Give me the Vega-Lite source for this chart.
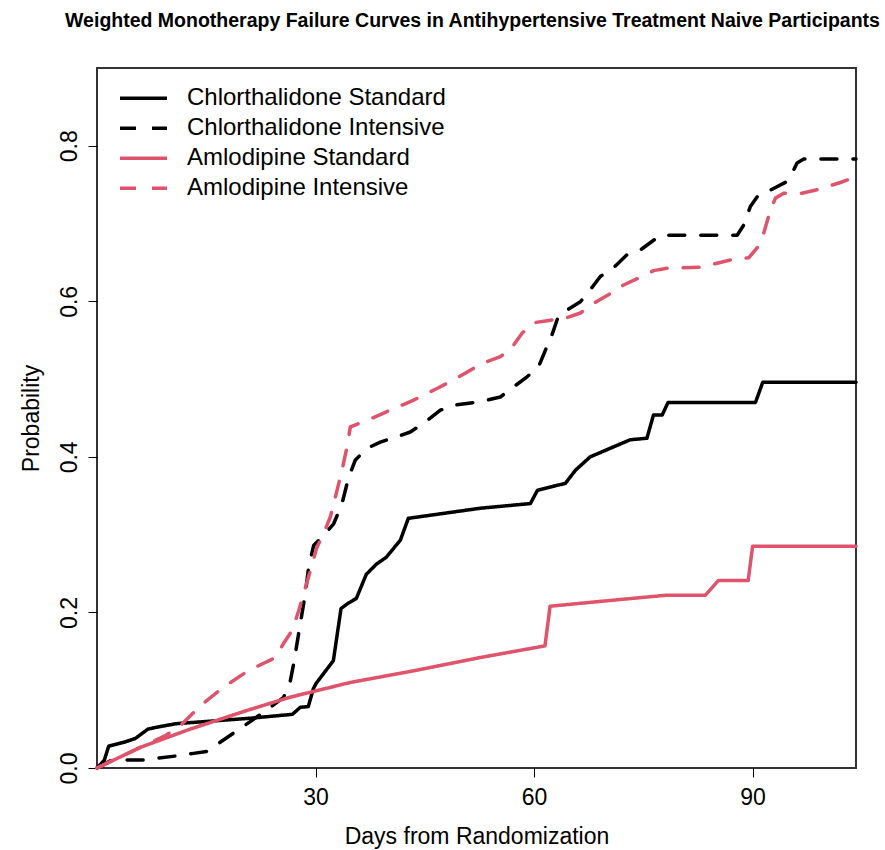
{
  "$schema": "https://vega.github.io/schema/vega-lite/v6.json",
  "width": 759,
  "height": 700,
  "autosize": {"type": "none"},
  "padding": {"left": 97, "top": 68, "right": 29, "bottom": 82},
  "background": "white",
  "title": {
    "text": "Weighted Monotherapy Failure Curves in Antihypertensive Treatment Naive Participants",
    "font": "Liberation Sans",
    "fontSize": 19.5,
    "fontWeight": "bold",
    "color": "black",
    "anchor": "middle",
    "baseline": "alphabetic",
    "offset": 41,
    "dy": 19,
    "dx": -4
  },
  "config": {
    "view": {"stroke": "#333333", "strokeWidth": 2},
    "axis": {"grid": false, "domain": false}
  },
  "data": {
    "values": [
      {"s": "Chlorthalidone Standard", "d": 0, "p": 0},
      {"s": "Chlorthalidone Standard", "d": 1.0, "p": 0.01},
      {"s": "Chlorthalidone Standard", "d": 1.6, "p": 0.028},
      {"s": "Chlorthalidone Standard", "d": 4.02, "p": 0.034},
      {"s": "Chlorthalidone Standard", "d": 5.26, "p": 0.038},
      {"s": "Chlorthalidone Standard", "d": 7.0, "p": 0.05},
      {"s": "Chlorthalidone Standard", "d": 8.5, "p": 0.053},
      {"s": "Chlorthalidone Standard", "d": 10.89, "p": 0.057},
      {"s": "Chlorthalidone Standard", "d": 21.05, "p": 0.064},
      {"s": "Chlorthalidone Standard", "d": 26.82, "p": 0.069},
      {"s": "Chlorthalidone Standard", "d": 27.91, "p": 0.078},
      {"s": "Chlorthalidone Standard", "d": 29.01, "p": 0.079},
      {"s": "Chlorthalidone Standard", "d": 29.7, "p": 0.102},
      {"s": "Chlorthalidone Standard", "d": 30.1, "p": 0.109},
      {"s": "Chlorthalidone Standard", "d": 32.45, "p": 0.138},
      {"s": "Chlorthalidone Standard", "d": 33.5, "p": 0.205},
      {"s": "Chlorthalidone Standard", "d": 34.5, "p": 0.212},
      {"s": "Chlorthalidone Standard", "d": 35.6, "p": 0.218},
      {"s": "Chlorthalidone Standard", "d": 36.97, "p": 0.249},
      {"s": "Chlorthalidone Standard", "d": 38.35, "p": 0.262},
      {"s": "Chlorthalidone Standard", "d": 39.72, "p": 0.271},
      {"s": "Chlorthalidone Standard", "d": 41.65, "p": 0.293},
      {"s": "Chlorthalidone Standard", "d": 42.74, "p": 0.321},
      {"s": "Chlorthalidone Standard", "d": 52.63, "p": 0.334},
      {"s": "Chlorthalidone Standard", "d": 59.5, "p": 0.34},
      {"s": "Chlorthalidone Standard", "d": 60.46, "p": 0.357},
      {"s": "Chlorthalidone Standard", "d": 64.3, "p": 0.366},
      {"s": "Chlorthalidone Standard", "d": 65.7, "p": 0.383},
      {"s": "Chlorthalidone Standard", "d": 67.7, "p": 0.4},
      {"s": "Chlorthalidone Standard", "d": 73.2, "p": 0.422},
      {"s": "Chlorthalidone Standard", "d": 75.5, "p": 0.424},
      {"s": "Chlorthalidone Standard", "d": 76.4, "p": 0.454},
      {"s": "Chlorthalidone Standard", "d": 77.6, "p": 0.454},
      {"s": "Chlorthalidone Standard", "d": 78.4, "p": 0.47},
      {"s": "Chlorthalidone Standard", "d": 90.4, "p": 0.47},
      {"s": "Chlorthalidone Standard", "d": 91.4, "p": 0.496},
      {"s": "Chlorthalidone Standard", "d": 104.2, "p": 0.496},

      {"s": "Chlorthalidone Intensive", "d": 0, "p": 0},
      {"s": "Chlorthalidone Intensive", "d": 1.83, "p": 0.0094},
      {"s": "Chlorthalidone Intensive", "d": 4.12, "p": 0.0103},
      {"s": "Chlorthalidone Intensive", "d": 6.4, "p": 0.0103},
      {"s": "Chlorthalidone Intensive", "d": 8.46, "p": 0.0129},
      {"s": "Chlorthalidone Intensive", "d": 11.2, "p": 0.0158},
      {"s": "Chlorthalidone Intensive", "d": 13.26, "p": 0.0188},
      {"s": "Chlorthalidone Intensive", "d": 15.1, "p": 0.0214},
      {"s": "Chlorthalidone Intensive", "d": 19.22, "p": 0.048},
      {"s": "Chlorthalidone Intensive", "d": 22.88, "p": 0.0716},
      {"s": "Chlorthalidone Intensive", "d": 25.62, "p": 0.0909},
      {"s": "Chlorthalidone Intensive", "d": 26.54, "p": 0.112},
      {"s": "Chlorthalidone Intensive", "d": 27.0, "p": 0.134},
      {"s": "Chlorthalidone Intensive", "d": 27.68, "p": 0.1725},
      {"s": "Chlorthalidone Intensive", "d": 28.6, "p": 0.224},
      {"s": "Chlorthalidone Intensive", "d": 29.05, "p": 0.258},
      {"s": "Chlorthalidone Intensive", "d": 29.74, "p": 0.286},
      {"s": "Chlorthalidone Intensive", "d": 31.11, "p": 0.299},
      {"s": "Chlorthalidone Intensive", "d": 32.49, "p": 0.314},
      {"s": "Chlorthalidone Intensive", "d": 33.64, "p": 0.34},
      {"s": "Chlorthalidone Intensive", "d": 34.55, "p": 0.374},
      {"s": "Chlorthalidone Intensive", "d": 35.47, "p": 0.396},
      {"s": "Chlorthalidone Intensive", "d": 37.07, "p": 0.411},
      {"s": "Chlorthalidone Intensive", "d": 38.9, "p": 0.419},
      {"s": "Chlorthalidone Intensive", "d": 41.19, "p": 0.426},
      {"s": "Chlorthalidone Intensive", "d": 43.02, "p": 0.432},
      {"s": "Chlorthalidone Intensive", "d": 45.08, "p": 0.445},
      {"s": "Chlorthalidone Intensive", "d": 47.14, "p": 0.46},
      {"s": "Chlorthalidone Intensive", "d": 48.96, "p": 0.4665},
      {"s": "Chlorthalidone Intensive", "d": 52.63, "p": 0.471},
      {"s": "Chlorthalidone Intensive", "d": 55.38, "p": 0.477},
      {"s": "Chlorthalidone Intensive", "d": 57.2, "p": 0.49},
      {"s": "Chlorthalidone Intensive", "d": 59.04, "p": 0.503},
      {"s": "Chlorthalidone Intensive", "d": 60.63, "p": 0.516},
      {"s": "Chlorthalidone Intensive", "d": 61.55, "p": 0.537},
      {"s": "Chlorthalidone Intensive", "d": 62.47, "p": 0.557},
      {"s": "Chlorthalidone Intensive", "d": 63.38, "p": 0.582},
      {"s": "Chlorthalidone Intensive", "d": 64.75, "p": 0.59},
      {"s": "Chlorthalidone Intensive", "d": 66.36, "p": 0.5995},
      {"s": "Chlorthalidone Intensive", "d": 67.73, "p": 0.615},
      {"s": "Chlorthalidone Intensive", "d": 69.1, "p": 0.632},
      {"s": "Chlorthalidone Intensive", "d": 71.17, "p": 0.6455},
      {"s": "Chlorthalidone Intensive", "d": 72.77, "p": 0.66},
      {"s": "Chlorthalidone Intensive", "d": 74.6, "p": 0.666},
      {"s": "Chlorthalidone Intensive", "d": 77.34, "p": 0.685},
      {"s": "Chlorthalidone Intensive", "d": 87.88, "p": 0.685},
      {"s": "Chlorthalidone Intensive", "d": 88.78, "p": 0.698},
      {"s": "Chlorthalidone Intensive", "d": 89.7, "p": 0.722},
      {"s": "Chlorthalidone Intensive", "d": 90.84, "p": 0.737},
      {"s": "Chlorthalidone Intensive", "d": 92.45, "p": 0.743},
      {"s": "Chlorthalidone Intensive", "d": 94.74, "p": 0.754},
      {"s": "Chlorthalidone Intensive", "d": 95.65, "p": 0.769},
      {"s": "Chlorthalidone Intensive", "d": 96.11, "p": 0.778},
      {"s": "Chlorthalidone Intensive", "d": 97.02, "p": 0.783},
      {"s": "Chlorthalidone Intensive", "d": 104.2, "p": 0.783},

      {"s": "Amlodipine Standard", "d": 0, "p": 0},
      {"s": "Amlodipine Standard", "d": 5.95, "p": 0.0265},
      {"s": "Amlodipine Standard", "d": 12.8, "p": 0.05},
      {"s": "Amlodipine Standard", "d": 20.6, "p": 0.074},
      {"s": "Amlodipine Standard", "d": 26.5, "p": 0.091},
      {"s": "Amlodipine Standard", "d": 34.8, "p": 0.11},
      {"s": "Amlodipine Standard", "d": 43.5, "p": 0.125},
      {"s": "Amlodipine Standard", "d": 52.6, "p": 0.142},
      {"s": "Amlodipine Standard", "d": 61.5, "p": 0.157},
      {"s": "Amlodipine Standard", "d": 62.2, "p": 0.208},
      {"s": "Amlodipine Standard", "d": 70.0, "p": 0.215},
      {"s": "Amlodipine Standard", "d": 78.0, "p": 0.222},
      {"s": "Amlodipine Standard", "d": 83.5, "p": 0.222},
      {"s": "Amlodipine Standard", "d": 85.3, "p": 0.241},
      {"s": "Amlodipine Standard", "d": 89.4, "p": 0.241},
      {"s": "Amlodipine Standard", "d": 90.0, "p": 0.285},
      {"s": "Amlodipine Standard", "d": 104.2, "p": 0.285},

      {"s": "Amlodipine Intensive", "d": 0, "p": 0},
      {"s": "Amlodipine Intensive", "d": 5.95, "p": 0.0265},
      {"s": "Amlodipine Intensive", "d": 9.38, "p": 0.0416},
      {"s": "Amlodipine Intensive", "d": 11.4, "p": 0.054},
      {"s": "Amlodipine Intensive", "d": 14.2, "p": 0.08},
      {"s": "Amlodipine Intensive", "d": 17.3, "p": 0.1035},
      {"s": "Amlodipine Intensive", "d": 20.8, "p": 0.1253},
      {"s": "Amlodipine Intensive", "d": 24.5, "p": 0.142},
      {"s": "Amlodipine Intensive", "d": 25.6, "p": 0.16},
      {"s": "Amlodipine Intensive", "d": 26.8, "p": 0.177},
      {"s": "Amlodipine Intensive", "d": 27.7, "p": 0.2025},
      {"s": "Amlodipine Intensive", "d": 28.37, "p": 0.224},
      {"s": "Amlodipine Intensive", "d": 29.29, "p": 0.254},
      {"s": "Amlodipine Intensive", "d": 30.2, "p": 0.284},
      {"s": "Amlodipine Intensive", "d": 31.1, "p": 0.301},
      {"s": "Amlodipine Intensive", "d": 32.03, "p": 0.3227},
      {"s": "Amlodipine Intensive", "d": 32.72, "p": 0.348},
      {"s": "Amlodipine Intensive", "d": 33.64, "p": 0.383},
      {"s": "Amlodipine Intensive", "d": 34.33, "p": 0.413},
      {"s": "Amlodipine Intensive", "d": 34.78, "p": 0.4386},
      {"s": "Amlodipine Intensive", "d": 37.07, "p": 0.447},
      {"s": "Amlodipine Intensive", "d": 40.27, "p": 0.46},
      {"s": "Amlodipine Intensive", "d": 43.47, "p": 0.473},
      {"s": "Amlodipine Intensive", "d": 46.68, "p": 0.488},
      {"s": "Amlodipine Intensive", "d": 48.96, "p": 0.499},
      {"s": "Amlodipine Intensive", "d": 52.63, "p": 0.519},
      {"s": "Amlodipine Intensive", "d": 55.38, "p": 0.529},
      {"s": "Amlodipine Intensive", "d": 56.75, "p": 0.5378},
      {"s": "Amlodipine Intensive", "d": 58.35, "p": 0.559},
      {"s": "Amlodipine Intensive", "d": 59.95, "p": 0.5725},
      {"s": "Amlodipine Intensive", "d": 61.79, "p": 0.575},
      {"s": "Amlodipine Intensive", "d": 64.53, "p": 0.579},
      {"s": "Amlodipine Intensive", "d": 66.36, "p": 0.585},
      {"s": "Amlodipine Intensive", "d": 68.19, "p": 0.5975},
      {"s": "Amlodipine Intensive", "d": 70.48, "p": 0.61},
      {"s": "Amlodipine Intensive", "d": 72.3, "p": 0.621},
      {"s": "Amlodipine Intensive", "d": 74.6, "p": 0.631},
      {"s": "Amlodipine Intensive", "d": 76.42, "p": 0.6395},
      {"s": "Amlodipine Intensive", "d": 78.26, "p": 0.6425},
      {"s": "Amlodipine Intensive", "d": 82.8, "p": 0.644},
      {"s": "Amlodipine Intensive", "d": 85.13, "p": 0.649},
      {"s": "Amlodipine Intensive", "d": 87.19, "p": 0.6536},
      {"s": "Amlodipine Intensive", "d": 89.47, "p": 0.656},
      {"s": "Amlodipine Intensive", "d": 90.62, "p": 0.6686},
      {"s": "Amlodipine Intensive", "d": 91.53, "p": 0.6876},
      {"s": "Amlodipine Intensive", "d": 92.45, "p": 0.7176},
      {"s": "Amlodipine Intensive", "d": 93.14, "p": 0.7327},
      {"s": "Amlodipine Intensive", "d": 94.27, "p": 0.739},
      {"s": "Amlodipine Intensive", "d": 96.8, "p": 0.739},
      {"s": "Amlodipine Intensive", "d": 98.86, "p": 0.7435},
      {"s": "Amlodipine Intensive", "d": 102.06, "p": 0.7528},
      {"s": "Amlodipine Intensive", "d": 104.2, "p": 0.76}
    ]
  },
  "mark": {"type": "line", "strokeWidth": 3.5, "strokeCap": "round", "strokeJoin": "round"},
  "encoding": {
    "x": {
      "field": "d",
      "type": "quantitative",
      "scale": {"domain": [0, 104.2], "nice": false, "zero": false},
      "axis": {
        "values": [30, 60, 90],
        "format": "d",
        "tickSize": 9,
        "tickColor": "black",
        "tickWidth": 1,
        "labelFont": "Liberation Sans",
        "labelFontSize": 23,
        "labelColor": "black",
        "labelPadding": 9,
        "labelFlush": false,
        "title": "Days from Randomization",
        "titleFont": "Liberation Sans",
        "titleFontSize": 23,
        "titleFontWeight": "normal",
        "titleColor": "black",
        "titleBaseline": "alphabetic",
        "titleY": 75
      }
    },
    "y": {
      "field": "p",
      "type": "quantitative",
      "scale": {"domain": [0, 0.9], "nice": false, "zero": false},
      "axis": {
        "values": [0, 0.2, 0.4, 0.6, 0.8],
        "format": ".1f",
        "tickSize": 9,
        "tickColor": "black",
        "tickWidth": 1,
        "labelFont": "Liberation Sans",
        "labelFontSize": 23,
        "labelColor": "black",
        "labelAngle": 270,
        "labelAlign": "center",
        "labelBaseline": "alphabetic",
        "labelPadding": 12,
        "labelFlush": false,
        "labelOverlap": false,
        "title": "Probability",
        "titleFont": "Liberation Sans",
        "titleFontSize": 23,
        "titleFontWeight": "normal",
        "titleColor": "black",
        "titleAngle": 270,
        "titleAlign": "center",
        "titleBaseline": "alphabetic",
        "titleX": -59,
        "titleY": 350
      }
    },
    "color": {
      "field": "s",
      "type": "nominal",
      "scale": {
        "domain": ["Chlorthalidone Standard", "Chlorthalidone Intensive", "Amlodipine Standard", "Amlodipine Intensive"],
        "range": ["black", "black", "#DF536B", "#DF536B"]
      },
      "legend": {
        "orient": "none",
        "legendX": 21,
        "legendY": 15.5,
        "title": null,
        "padding": 0,
        "symbolType": "stroke",
        "symbolSize": 2209,
        "symbolStrokeWidth": 3.5,
        "labelFont": "Liberation Sans",
        "labelFontSize": 24,
        "labelColor": "black",
        "labelOffset": 18,
        "labelLimit": 0,
        "rowPadding": 0,
        "clipHeight": 29.3
      }
    },
    "strokeDash": {
      "field": "s",
      "type": "nominal",
      "scale": {
        "domain": ["Chlorthalidone Standard", "Chlorthalidone Intensive", "Amlodipine Standard", "Amlodipine Intensive"],
        "range": [[1, 0], [16, 16], [1, 0], [16, 16]]
      },
      "legend": {
        "orient": "none",
        "legendX": 21,
        "legendY": 15.5,
        "title": null,
        "padding": 0,
        "symbolType": "stroke",
        "symbolSize": 2209,
        "symbolStrokeWidth": 3.5,
        "labelFont": "Liberation Sans",
        "labelFontSize": 24,
        "labelColor": "black",
        "labelOffset": 18,
        "labelLimit": 0,
        "rowPadding": 0,
        "clipHeight": 29.3
      }
    }
  }
}
